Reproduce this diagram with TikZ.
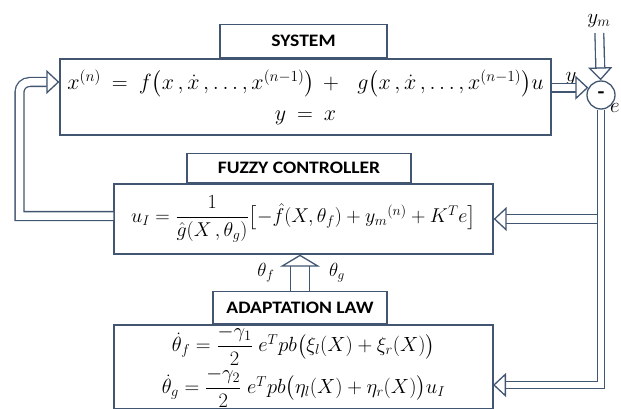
\documentclass[tikz,border=0pt]{standalone}
\usepackage{fix-cm}
\usepackage{amsmath,amssymb}
\usepackage{fontspec}
\newfontfamily\tagfont[FakeStretch=1.12]{Carlito}
\usepackage{tikz}
\usetikzlibrary{arrows.meta,positioning,calc}
\definecolor{linec}{RGB}{66,86,114}
\newcommand\widemath{\thickmuskip=9mu\relax\medmuskip=7mu\relax}

\begin{document}
\begin{tikzpicture}[x=1pt,y=-1pt,
    box/.style={draw=linec, line width=1.3pt, fill=white, inner sep=0pt},
    tagbox/.style={box, font=\tagfont\bfseries\fontsize{17.5}{20}\selectfont},
    eqbox/.style={box, align=center, font=\fontsize{21}{31}\selectfont},
    pipe/.style={draw=linec, line width=1.3pt, double=white, double distance=7.5pt},
    hollow/.style={pipe, -{Triangle[line width=1.3pt, length=13pt, width=24pt, fill=white]}}]
    \useasboundingbox (0,0) rectangle (621,409);

    % Blocks
    \node[eqbox, font=\fontsize{22}{31}\selectfont, minimum width=491pt, minimum height=76pt] (sys) at (305.5,97)
        {$\widemath x^{(n)} = f\bigl(x\mkern3mu,\dot{x}\mkern3mu,\ldots,x^{(n-1)}\bigr) +\mkern8mu g\bigl(x\mkern3mu,\dot{x}\mkern3mu,\ldots,x^{(n-1)}\bigr)u$\\
         $\widemath y = x$};
    \node[tagbox, minimum width=167pt, minimum height=33pt, above=0pt of sys, xshift=-2pt] (systag) {SYSTEM};

    \node[eqbox, font=\fontsize{20}{24}\selectfont, minimum width=379pt, minimum height=70pt] (ctrl) at (303.5,219)
        {$u_I = \dfrac{1}{\hat{g}(X\,,\theta_g)}\bigl[-\hat{f}(X,\theta_f)+ {y_m}^{(n)} + K^{T}e\bigr]$};
    \node[tagbox, minimum width=224pt, minimum height=29pt, above=0pt of ctrl, xshift=-4.5pt] (ctrltag) {FUZZY CONTROLLER};

    \node[eqbox, font=\fontsize{20.5}{30}\selectfont, minimum width=379pt, minimum height=83.5pt] (adapt) at (303.5,366.75)
        {$\dot{\theta}_f = \dfrac{-\gamma_1}{2}\; e^{T}pb\bigl(\xi_l(X)+\xi_r(X)\bigr)$\\[1pt]
         $\dot{\theta}_g = \dfrac{-\gamma_2}{2}\; e^{T}pb\bigl(\eta_l(X)+\eta_r(X)\bigr)u_I$};
    \node[tagbox, minimum width=174pt, minimum height=32pt, above=0pt of adapt, xshift=-3.5pt] (adapttag) {ADAPTATION LAW};

    % Summing junction and signals
    \node[circle, draw=linec, line width=1.3pt, fill=white, minimum size=28pt, inner sep=0pt,
          font=\tagfont\bfseries\fontsize{20}{22}\selectfont] (sum) at (601,95) {-};
    \node[font=\fontsize{21}{24}\selectfont] (ym) at (599,21) {$y_m$};
    \node[font=\fontsize{21}{24}\selectfont] (ylab) at (571,79) {$y$};
    \node[font=\fontsize{21}{24}\selectfont] (elab) at (615,108) {$e$};
    \node[font=\fontsize{19}{22}\selectfont] (thf) at (266,273) {$\theta_f$};
    \node[font=\fontsize{19}{22}\selectfont] (thg) at (337,273) {$\theta_g$};

    \coordinate (fbtop) at (19.5,82);
    \coordinate (fbbot) at (19.5,216);
    \coordinate (adin) at (493,385);

    % Connectors
    \draw[hollow] (sys.east |- sum.150) -- (sum.150);
    \draw[hollow, shorten <=2pt] (ym) -- (sum);
    \draw[hollow, double distance=6pt] (sum.south) |- (adin);
    \draw[hollow] (597.4,219) -- (ctrl.east);
    \draw[hollow] (fbbot -| ctrl.west) -- (fbbot) [rounded corners=10pt] -- (fbtop) -- (fbtop -| sys.west);
    \draw[hollow, double distance=18pt, -{Triangle[line width=1.3pt, length=12pt, width=40pt, fill=white]}]
        (adapttag.north) -- (adapttag.north |- ctrl.south);
\end{tikzpicture}
\end{document}
